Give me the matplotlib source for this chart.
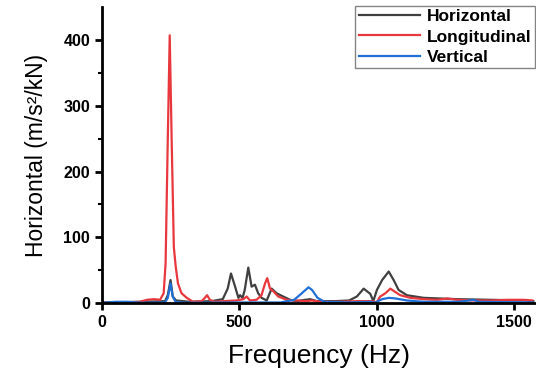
import matplotlib.pyplot as plt

# --- data (frequency in Hz, response in m/s^2/kN) ---
horiz_f = [0, 150, 230, 240, 250, 258, 270, 320, 400, 440, 458, 470, 485, 497,
           503, 512, 520, 533, 545, 557, 569, 581, 600, 618, 636, 660, 685, 709,
           740, 758, 782, 850, 900, 928, 953, 965, 977, 988, 1001, 1020, 1044,
           1062, 1080, 1110, 1171, 1293, 1415, 1536, 1570]
horiz_v = [1, 2, 3, 12, 35, 10, 4, 2, 3, 6, 22, 45, 25, 8,
           12, 8, 20, 54, 25, 28, 15, 8, 4, 22, 15, 10, 5, 3,
           5, 6, 3, 3, 4, 10, 22, 18, 14, 3, 20, 35, 48,
           35, 20, 12, 8, 6, 5, 4, 3]

long_f = [0, 77, 137, 165, 190, 212, 225, 232, 240, 247, 254, 262, 269, 277,
          290, 309, 332, 363, 375, 383, 393, 411, 442, 490, 515, 527, 539, 563,
          581, 594, 602, 612, 624, 642, 673, 709, 746, 764, 794, 867, 928, 985,
          1000, 1013, 1032, 1050, 1064, 1086, 1123, 1171, 1220, 1257, 1293,
          1354, 1415, 1476, 1536, 1567]
long_v = [1, 1, 2, 5, 6, 5, 15, 60, 250, 407, 250, 85, 55, 30,
          15, 8, 2, 3, 8, 12, 5, 2, 3, 4, 6, 10, 4, 5,
          12, 30, 38, 22, 18, 10, 5, 4, 3, 4, 2, 2, 3, 3,
          1, 10, 15, 22, 18, 12, 8, 6, 5, 7, 5,
          4, 4, 5, 5, 4]

vert_f = [0, 50, 90, 150, 230, 240, 250, 258, 268, 300, 500, 650, 700, 725,
          752, 765, 785, 810, 900, 980, 992, 1020, 1045, 1070, 1110, 1170,
          1300, 1354, 1370, 1570]
vert_v = [0.5, 2, 2, 0.5, 1, 8, 30, 10, 2, 0.5, 1, 1, 5, 14,
          24, 20, 8, 2, 1, 2, 0.3, 6, 8, 7, 4, 2,
          2, 5, 2, 1]

plt.rcParams['font.family'] = ['Liberation Sans', 'DejaVu Sans']

fig = plt.figure(figsize=(5.36, 3.71), dpi=100)
ax = fig.add_axes([0.19, 0.183, 0.81, 0.798])

ax.plot(horiz_f, horiz_v, color='#404040', lw=1.6, label='Horizontal')
ax.plot(long_f, long_v, color='#e8383d', lw=1.6, label='Longitudinal')
ax.plot(vert_f, vert_v, color='#1f6fd6', lw=1.6, label='Vertical')

ax.set_xlim(0, 1580)
ax.set_ylim(0, 450)
ax.set_xticks([0, 500, 1000, 1500])
ax.set_yticks([0, 100, 200, 300, 400])
ax.set_yticks([50, 150, 250, 350], minor=True)

for side in ('top', 'right'):
    ax.spines[side].set_visible(False)
for side in ('left', 'bottom'):
    ax.spines[side].set_linewidth(2)

ax.tick_params(which='major', direction='out', length=5, width=2, labelsize=11.5)
ax.tick_params(which='minor', direction='out', length=3, width=1.5)
for lab in ax.get_xticklabels() + ax.get_yticklabels():
    lab.set_fontweight('bold')

ax.set_xlabel('Frequency (Hz)', fontsize=19, labelpad=10)
ax.set_ylabel('Horizontal (m/s²/kN)', fontsize=16.5, labelpad=11)

leg = ax.legend(loc='upper right', bbox_to_anchor=(0.997, 1.005),
                prop={'weight': 'bold', 'size': 12.5}, frameon=True, fancybox=False,
                handlelength=3.5, handletextpad=0.4, borderpad=0.2,
                labelspacing=0.3, borderaxespad=0)
leg.get_frame().set_edgecolor('#666666')
leg.get_frame().set_linewidth(1)

fig.savefig('out.png', dpi=100)
